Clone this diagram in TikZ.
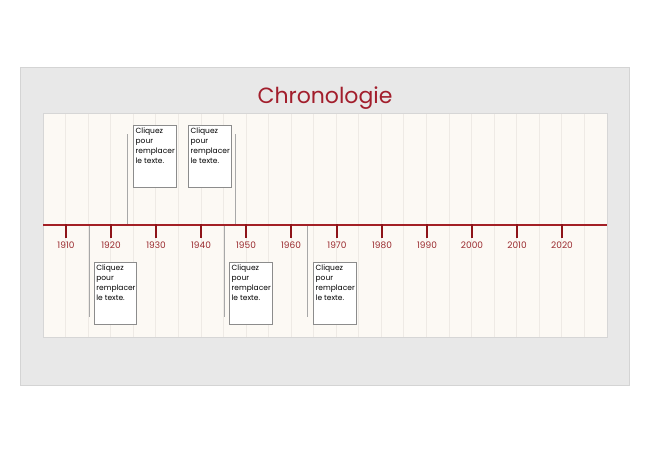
\documentclass[tikz,border=0pt]{standalone}
\usepackage{fontspec}
\setmainfont{Poppins}
\definecolor{outerbg}{HTML}{E8E8E8}
\definecolor{outerbd}{HTML}{D4D4D4}
\definecolor{panelbg}{HTML}{FCF9F4}
\definecolor{panelbd}{HTML}{D6D6D6}
\definecolor{stripec}{HTML}{EEEAE5}
\definecolor{axisc}{HTML}{A31F25}
\definecolor{tickc}{HTML}{8E1418}
\definecolor{yearc}{HTML}{9A2A2E}
\definecolor{titlec}{HTML}{A21E2C}
\definecolor{connc}{HTML}{A8A8A8}
\definecolor{boxbd}{HTML}{8C8C8C}
\tikzset{
  outerbox/.style={fill=outerbg,draw=outerbd,line width=0.8pt},
  panelbox/.style={fill=panelbg,draw=panelbd,line width=0.8pt},
  stripe/.style={draw=stripec,line width=0.7pt},
  axisline/.style={draw=axisc,line width=2pt},
  tickline/.style={draw=tickc,line width=2pt},
  yearlabel/.style={text=yearc,font=\fontsize{9}{10}\selectfont,inner sep=0pt},
  titlelabel/.style={text=titlec,font=\fontsize{22}{24}\selectfont,inner sep=0pt},
  connline/.style={draw=connc,line width=0.9pt},
  textbox/.style={draw=boxbd,fill=white,line width=0.7pt,inner sep=2pt,anchor=north west,
    font=\fontsize{7.5}{10}\selectfont,align=left}
}
\newcommand{\boxtext}{\parbox[t][58pt][t]{38.4pt}{Cliquez\\pour\\remplacer\\le texte.}}
\begin{document}
\begin{tikzpicture}[x=1pt,y=-1pt]
\useasboundingbox (0,0) rectangle (650,450);
\fill[white] (0,0) rectangle (650,450);
\draw[outerbox] (20.5,67.5) rectangle (629.5,385);
\draw[panelbox] (43,113) rectangle (607,337);
\foreach \i in {1,...,24}
  \draw[stripe] ({43+22.55*\i},113.5) -- ({43+22.55*\i},336.5);
\node[titlelabel] (title) at (325,98) {Chronologie};
\coordinate (axL) at (43,225);
\coordinate (axR) at (607,225);
\draw[axisline] (axL) -- (axR);
\foreach \yr/\xx in {1910/66,1920/111,1930/156,1940/201,1950/246,1960/291,1970/337,1980/382,1990/427,2000/472,2010/517,2020/562} {
  \coordinate (t\yr) at (\xx,224);
  \coordinate (tb\yr) at (\xx,238);
  \draw[tickline] (t\yr) -- (tb\yr);
  \node[yearlabel] (y\yr) at (\xx,245) {\yr};
}
% upper boxes
\node[textbox] (b1) at (133.3,125.3) {\boxtext};
\node[textbox] (b2) at (188.3,125.3) {\boxtext};
\coordinate (c1a) at (127.3,134);
\coordinate (c1b) at (127.3,224);
\draw[connline] (c1a) -- (c1b);
\coordinate (c2a) at (235.7,134);
\coordinate (c2b) at (235.7,224);
\draw[connline] (c2a) -- (c2b);
% lower boxes
\node[textbox] (b3) at (94,262.3) {\boxtext};
\node[textbox] (b4) at (229.3,262.3) {\boxtext};
\node[textbox] (b5) at (313.3,262.3) {\boxtext};
\coordinate (c3a) at (89,226);
\coordinate (c3b) at (89,316.7);
\draw[connline] (c3a) -- (c3b);
\coordinate (c4a) at (224.3,226);
\coordinate (c4b) at (224.3,316.7);
\draw[connline] (c4a) -- (c4b);
\coordinate (c5a) at (307.7,226);
\coordinate (c5b) at (307.7,316.7);
\draw[connline] (c5a) -- (c5b);
\end{tikzpicture}
\end{document}
